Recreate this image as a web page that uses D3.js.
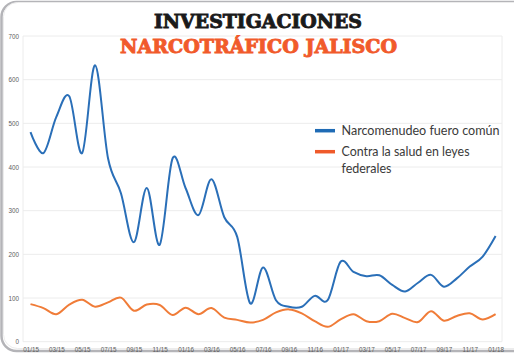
<!DOCTYPE html>
<html><head><meta charset="utf-8">
<script src="https://cdn.jsdelivr.net/npm/d3@7"></script>
<style>html,body{margin:0;padding:0;background:#fff;}svg{display:block;}</style>
</head><body>
<script>
const months = ["01/15","02/15","03/15","04/15","05/15","06/15","07/15","08/15","09/15","10/15","11/15","12/15",
"01/16","02/16","03/16","04/16","05/16","06/16","07/16","08/16","09/16","10/16","11/16","12/16",
"01/17","02/17","03/17","04/17","05/17","06/17","07/17","08/17","09/17","10/17","11/17","12/17","01/18"];
const narcomenudeo = [480,432,515,562,432,633,420,340,228,352,222,420,352,290,372,285,240,88,170,95,80,80,105,95,183,160,150,152,130,115,135,153,126,145,172,195,242];
const contraSalud = [86,77,63,85,96,80,90,101,71,85,84,61,78,63,77,55,50,44,50,67,74,65,47,34,51,63,47,47,64,54,45,70,48,59,65,51,63];
const yTicks = [0,100,200,300,400,500,600,700];
const seriesNames = ["Narcomenudeo fuero común","Contra la salud en leyes","federales"];
const titleLines = ["INVESTIGACIONES","NARCOTRÁFICO JALISCO"];

const W=514,H=356;
const svg=d3.select("body").append("svg").attr("width",W).attr("height",H);

// card frame
svg.append("rect").attr("x",1.5).attr("y",2).attr("width",526).attr("height",349).attr("rx",15)
  .attr("fill","#fff").attr("stroke","#b4b4b8").attr("stroke-width",2.5);
svg.append("rect").attr("x",3.5).attr("y",2.5).attr("width",530).attr("height",346).attr("rx",14)
  .attr("fill","#fff").attr("stroke","#ececec").attr("stroke-width",1);

const x=d3.scaleLinear().domain([0,36]).range([30.5,495.6]);
const y=d3.scaleLinear().domain([0,700]).range([341.7,36]);
const left=23,right=502;

// grid
svg.append("g").selectAll("line").data(yTicks).join("line")
  .attr("x1",left).attr("x2",right).attr("y1",d=>y(d)).attr("y2",d=>y(d))
  .attr("stroke","#ececec").attr("stroke-width",1);
svg.append("line").attr("x1",left).attr("x2",left).attr("y1",y(700)).attr("y2",y(0)).attr("stroke","#ececec");
svg.append("line").attr("x1",right).attr("x2",right).attr("y1",y(700)).attr("y2",y(0)).attr("stroke","#ececec");

// axes
const yAxis=svg.append("g").attr("transform",`translate(${left},0)`)
  .call(d3.axisLeft(y).tickValues(yTicks).tickSize(0).tickPadding(4));
const xAxis=svg.append("g").attr("transform",`translate(0,${y(0)})`)
  .call(d3.axisBottom(x).tickValues(d3.range(0,37,2)).tickFormat(i=>months[i]).tickSize(0).tickPadding(6));
[yAxis,xAxis].forEach(g=>{
  g.select(".domain").remove();
  g.selectAll("text").attr("fill","#606060").attr("font-family","Liberation Sans, Arial, sans-serif").attr("font-size",6.3);
});

// lines
const line=d3.line().x((d,i)=>x(i)).y(d=>y(d)).curve(d3.curveCatmullRom.alpha(0));
svg.append("path").datum(contraSalud).attr("d",line).attr("fill","none").attr("stroke","#f07c38").attr("stroke-width",2);
svg.append("path").datum(narcomenudeo).attr("d",line).attr("fill","none").attr("stroke","#2a6fb8").attr("stroke-width",2);

// title
svg.append("text").attr("x",258).attr("y",28).attr("text-anchor","middle")
  .attr("font-family","DejaVu Serif").attr("font-weight","bold").attr("font-size",18)
  .attr("textLength",208).attr("lengthAdjust","spacingAndGlyphs").attr("fill","#1a1a1a")
  .attr("stroke","#1a1a1a").attr("stroke-width",0.9).text(titleLines[0]);
svg.append("text").attr("x",258.5).attr("y",53).attr("text-anchor","middle")
  .attr("font-family","DejaVu Serif").attr("font-weight","bold").attr("font-size",18)
  .attr("textLength",277).attr("lengthAdjust","spacingAndGlyphs").attr("fill","#f15a2b")
  .attr("stroke","#f15a2b").attr("stroke-width",0.9).text(titleLines[1]);

// legend
const lg=svg.append("g");
lg.append("line").attr("x1",315).attr("x2",335).attr("y1",130.7).attr("y2",130.7).attr("stroke","#1f6bb5").attr("stroke-width",3.5);
lg.append("line").attr("x1",315).attr("x2",335).attr("y1",151.7).attr("y2",151.7).attr("stroke","#ef5a2a").attr("stroke-width",3.5);
const lt=[[seriesNames[0],135,158],[seriesNames[1],156,128],[seriesNames[2],173,null]];
lt.forEach(([t,yy,len])=>{
  const e=lg.append("text").attr("x",341.5).attr("y",yy).attr("font-family","Lato, sans-serif").attr("font-size",12.5)
    .attr("fill","#3a3a3a").text(t);
  if(len) e.attr("textLength",len).attr("lengthAdjust","spacingAndGlyphs");
});
</script>
</body></html>
